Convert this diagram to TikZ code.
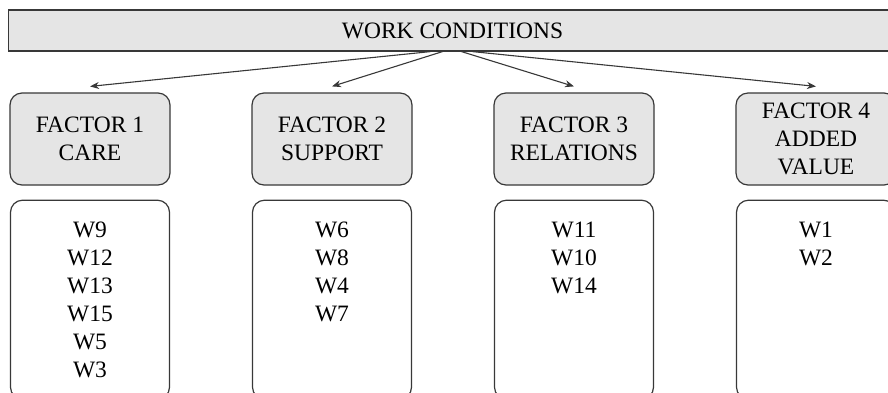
\documentclass[tikz,border=0pt]{standalone}
\usepackage{fontspec}
\setmainfont{Liberation Serif}
\usepackage{tikz}
\usetikzlibrary{arrows.meta}
\usetikzlibrary{positioning}
\definecolor{boxgray}{rgb}{0.9, 0.9, 0.9}
\definecolor{edgegray}{rgb}{0.22, 0.22, 0.22}

\tikzset{
  every node/.style={font=\rmfamily\fontsize{23.5}{28}\selectfont, text=black},
  headbox/.style={draw=edgegray, line width=1.2pt, fill=boxgray,
    minimum width=888pt, minimum height=41pt, inner sep=0pt},
  factorbox/.style={draw=edgegray, line width=1.2pt, fill=boxgray,
    rounded corners=12pt, minimum width=160pt, minimum height=92pt,
    inner sep=2pt, align=center},
  listbox/.style={draw=edgegray, line width=1.2pt, rounded corners=12pt,
    inner sep=0pt, below=14pt of #1},
  arr/.style={edgegray, line width=1.1pt, -{Stealth[length=9pt,width=7pt]}}
}
\newcommand{\wlist}[1]{\parbox[c][199pt][t]{159pt}{\vspace*{22pt}\centering #1\par}}

\begin{document}
\begin{tikzpicture}[x=1pt, y=-1pt]
  \useasboundingbox (0,0) rectangle (888,392);
  \clip (0,0) rectangle (888,392);

  \node [headbox] (work) at (452.5,30.5) {WORK CONDITIONS};

  \node [factorbox] (f1) at (90,139)  {FACTOR 1\\CARE};
  \node [factorbox] (f2) at (332,139) {FACTOR 2\\SUPPORT};
  \node [factorbox] (f3) at (574,139) {FACTOR 3\\RELATIONS};
  \node [factorbox] (f4) at (816,139) {FACTOR 4\\ADDED\\VALUE};

  \node [listbox=f1] (w1) {\wlist{W9\\W12\\W13\\W15\\W5\\W3}};
  \node [listbox=f2] (w2) {\wlist{W6\\W8\\W4\\W7}};
  \node [listbox=f3] (w3) {\wlist{W11\\W10\\W14}};
  \node [listbox=f4] (w4) {\wlist{W1\\W2}};

  \foreach \dx/\f in {-22/f1, -10/f2, 9/f3, 20/f4}
    \draw [arr] ([xshift=\dx pt]work.south) -- ([yshift=6pt]\f.north);
\end{tikzpicture}
\end{document}
